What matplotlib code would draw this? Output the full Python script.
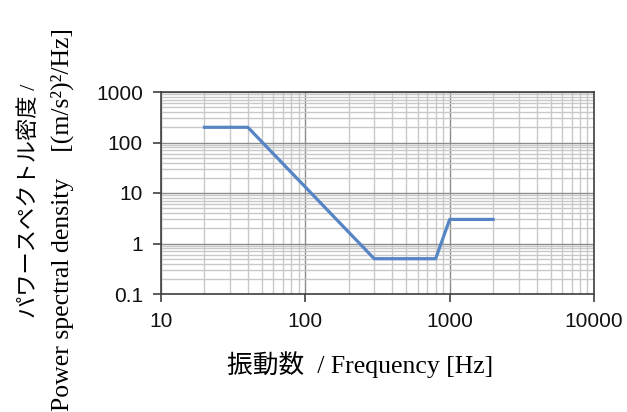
import matplotlib
matplotlib.use("Agg")
import matplotlib.pyplot as plt
from matplotlib.ticker import LogLocator, FixedFormatter, FixedLocator

freq_hz = [20, 40, 300, 800, 1000, 2000]
psd = [200, 200, 0.5, 0.5, 3, 3]

x_ticks = [10, 100, 1000, 10000]
x_tick_labels = ["10", "100", "1000", "10000"]
y_ticks = [0.1, 1, 10, 100, 1000]
y_tick_labels = ["0.1", "1", "10", "100", "1000"]

label_fonts = ["Liberation Serif", "Noto Sans CJK JP"]

fig = plt.figure(figsize=(6.27, 4.12), dpi=100)
ax = fig.add_axes([161 / 627, 1 - 294 / 412, 433 / 627, 202 / 412])

ax.plot(freq_hz, psd, color="#5585C5", linewidth=2.3, zorder=3)

ax.set_xscale("log")
ax.set_yscale("log")
ax.set_xlim(10, 10000)
ax.set_ylim(0.1, 1000)

ax.xaxis.set_major_locator(FixedLocator(x_ticks))
ax.xaxis.set_major_formatter(FixedFormatter(x_tick_labels))
ax.yaxis.set_major_locator(FixedLocator(y_ticks))
ax.yaxis.set_major_formatter(FixedFormatter(y_tick_labels))
ax.xaxis.set_minor_locator(LogLocator(base=10, subs=range(2, 10), numticks=20))
ax.yaxis.set_minor_locator(LogLocator(base=10, subs=range(2, 10), numticks=20))

ax.grid(True, which="minor", color="#C8C8C8", linewidth=1.0)
ax.grid(True, which="major", color="#8C8C8C", linewidth=1.0)
ax.set_axisbelow(True)

for side in ("left", "bottom", "top", "right"):
    ax.spines[side].set_color("#404040")
    ax.spines[side].set_linewidth(1.2)

ax.tick_params(which="major", direction="out", length=6, width=1.2, color="#404040",
               labelsize=15, labelcolor="#111111", pad=7)
ax.tick_params(which="minor", length=0)
for lab in ax.get_xticklabels() + ax.get_yticklabels():
    lab.set_family("Liberation Sans")

fig.text(0.574, 0.114, "振動数  / Frequency [Hz]", ha="center", va="center",
         fontsize=18.5, family=label_fonts)
fig.text(0.048, 0.52, "パワースペクトル密度 / ", ha="center", va="center",
         rotation=90, fontsize=16, family=label_fonts)
fig.text(0.1, 0.466, "Power spectral density    [(m/s²)²/Hz]", ha="center", va="center",
         rotation=90, fontsize=18.5, family=label_fonts)

fig.savefig("out.png", dpi=100)
